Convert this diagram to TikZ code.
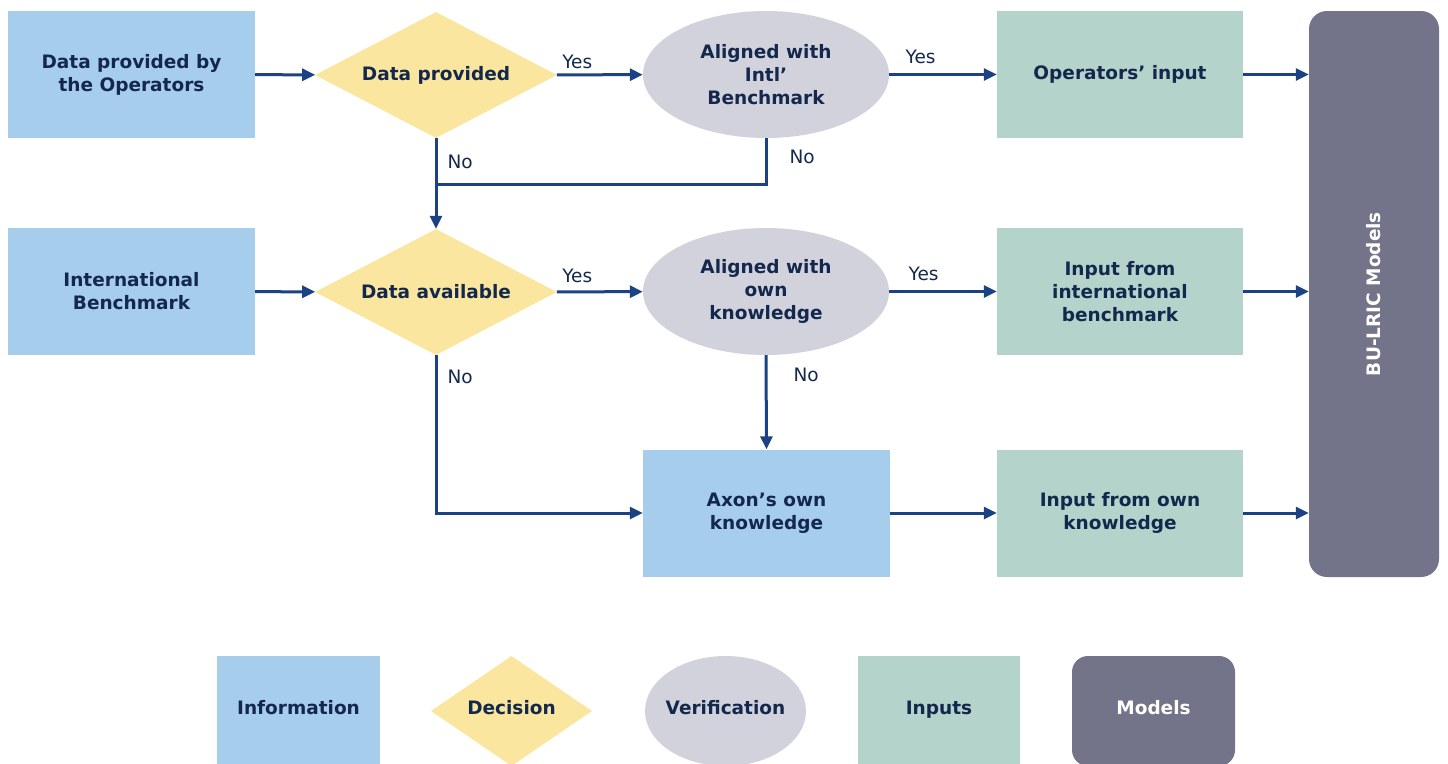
\documentclass[tikz,border=0pt]{standalone}
\usepackage{fontspec}
\setmainfont{DejaVu Sans}
\usetikzlibrary{shapes.geometric,arrows.meta}
\definecolor{infoblue}{HTML}{A7CDEC}
\definecolor{decyellow}{HTML}{FAE69E}
\definecolor{vergrey}{HTML}{D2D2DD}
\definecolor{inpgreen}{HTML}{B3D3CB}
\definecolor{modgrey}{HTML}{737389}
\definecolor{navy}{HTML}{13284C}
\definecolor{flowblue}{HTML}{1B4384}
\tikzset{
  txt/.style={font=\bfseries\fontsize{18.5}{23}\selectfont, text=navy, align=center, inner sep=0pt},
  info/.style={txt, rectangle, fill=infoblue, minimum width=247pt, minimum height=127pt},
  decision/.style={txt, diamond, shape aspect=1.92, fill=decyellow, minimum width=242pt, minimum height=126pt},
  verify/.style={txt, ellipse, fill=vergrey, minimum width=246pt, minimum height=127pt},
  inputbox/.style={txt, rectangle, fill=inpgreen, minimum width=246pt, minimum height=127pt},
  legtxt/.style={text height=0.73em, text depth=0pt},
  flow/.style={draw=flowblue, line width=3pt, -{Triangle[length=13pt,width=12pt]}},
  flowline/.style={draw=flowblue, line width=3pt},
  lbl/.style={font=\fontsize{18.5}{20}\selectfont, text=navy, inner sep=0pt}
}
\begin{document}
\begin{tikzpicture}[x=1pt,y=-1pt]
  \useasboundingbox (0,0) rectangle (1448,763);

  % row 1
  \node[info] (ops) at (131.5,74.5) {Data provided by\\the Operators};
  \node[decision] (dprov) at (436,75) {Data provided};
  \node[verify] (intl) at (766,74.5) {Aligned with\\Intl’\\Benchmark};
  \node[inputbox] (opin) at (1120,74.5) {Operators’ input};

  % row 2
  \node[info] (bench) at (131.5,291.5) {International\\Benchmark};
  \node[decision] (davail) at (436,292) {Data available};
  \node[verify] (ownk) at (766,291.5) {Aligned with\\own\\knowledge};
  \node[inputbox] (intin) at (1120,291.5) {Input from\\international\\benchmark};

  % row 3
  \node[info] (axon) at (766.5,513) {Axon’s own\\knowledge};
  \node[inputbox] (ownin) at (1120,513) {Input from own\\knowledge};

  % models
  \node[rectangle, rounded corners=18pt, fill=modgrey, minimum width=130pt, minimum height=566pt,
        label={[rotate=90, txt, text=white]center:BU-LRIC Models}] (bu) at (1374,294) {};

  \coordinate (join) at (436,184);

  \draw[flow] (ops) -- (dprov);
  \draw[flow] (dprov) -- (intl) node[lbl, pos=0, anchor=base west, xshift=4pt, yshift=6pt] {Yes};
  \draw[flow] (intl) -- (opin) node[lbl, pos=0, anchor=base west, xshift=15pt, yshift=11pt] {Yes};
  \draw[flow] (opin.east) -- (opin.east -| bu.west);
  \draw[flow] (dprov.south) -- (davail.north) node[lbl, pos=0, anchor=base west, xshift=10pt, yshift=-30pt] {No};
  \draw[flowline] (intl.south) |- (join) node[lbl, pos=0, anchor=base west, xshift=22pt, yshift=-25pt] {No};

  \draw[flow] (bench) -- (davail);
  \draw[flow] (davail) -- (ownk) node[lbl, pos=0, anchor=base west, xshift=4pt, yshift=9pt] {Yes};
  \draw[flow] (ownk) -- (intin) node[lbl, pos=0, anchor=base west, xshift=18pt, yshift=11pt] {Yes};
  \draw[flow] (intin.east) -- (intin.east -| bu.west);
  \draw[flow] (davail.south) |- (axon.west) node[lbl, pos=0, anchor=base west, xshift=10pt, yshift=-28pt] {No};
  \draw[flow] (ownk.south) -- (axon.north) node[lbl, pos=0, anchor=base west, xshift=26pt, yshift=-26pt] {No};

  \draw[flow] (axon) -- (ownin);
  \draw[flow] (ownin.east) -- (ownin.east -| bu.west);

  % legend
  \node[info, legtxt, minimum width=163pt, minimum height=110pt] (leginfo) at (298.5,711) {Information};
  \node[decision, legtxt, shape aspect=1.46, minimum width=161pt, minimum height=110pt] (legdec) at (511.5,711) {Decision};
  \node[verify, legtxt, inner xsep=-10pt, minimum width=161pt, minimum height=110pt] (legver) at (725.5,711) {Verification};
  \node[inputbox, legtxt, minimum width=162pt, minimum height=110pt] (leginp) at (939,711) {Inputs};
  \node[txt, legtxt, text=white, rectangle, rounded corners=16pt, fill=modgrey, minimum width=163pt, minimum height=110pt] (legmod) at (1153.5,711) {Models};
\end{tikzpicture}
\end{document}
